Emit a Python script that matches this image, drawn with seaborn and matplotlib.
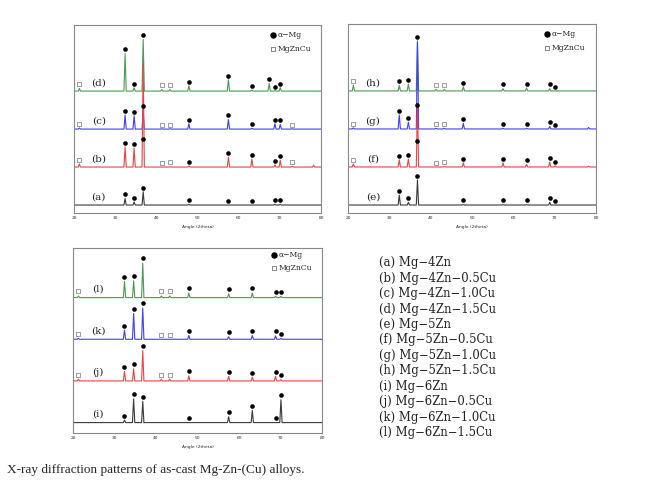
import seaborn as sns
import matplotlib.pyplot as plt
import pandas as pd

# -----------------------------
# 1. Peak data
# -----------------------------
# 2theta positions of the indexed peaks
mg_pos = [32.4, 34.6, 36.8, 47.9, 57.5, 63.2, 67.4, 68.8, 70.1]
mzc_pos = [21.3, 41.3, 43.3, 73.0]

# alpha-Mg peak heights above each pattern's baseline (None = not indexed)
mg_a = [0.17, 0.08, 0.35, 0.02, 0.00, 0.00, None, 0.02, 0.02]
mg_b = [0.53, 0.50, 0.63, 0.03, 0.26, 0.21, None, 0.06, 0.18]
mg_c = [0.37, 0.35, 0.49, 0.14, 0.25, 0.02, None, 0.14, 0.12]
mg_d = [0.99, 0.09, 1.36, 0.14, 0.30, 0.03, 0.20, 0.01, 0.09]
mg_e = [0.26, 0.07, 0.66, 0.01, 0.01, 0.01, None, 0.07, 0.00]
mg_f = [0.19, 0.21, 0.57, 0.11, 0.11, 0.07, None, 0.13, 0.03]
mg_g = [0.37, 0.18, 0.53, 0.15, 0.02, 0.02, None, 0.07, 0.00]
mg_h = [0.15, 0.18, 1.32, 0.11, 0.06, 0.08, None, 0.06, 0.00]
mg_i = [0.06, 0.57, 0.51, 0.00, 0.14, 0.29, None, 0.00, 0.55]
mg_j = [0.23, 0.29, 0.73, 0.12, 0.11, 0.09, None, 0.11, 0.03]
mg_k = [0.22, 0.62, 0.75, 0.09, 0.06, 0.09, None, 0.08, 0.02]
mg_l = [0.39, 0.40, 0.83, 0.11, 0.09, 0.11, None, 0.03, 0.03]

# MgZnCu peak heights (None = not indexed)
mzc_a = [None, None, None, None]
mzc_b = [0.08, 0.00, 0.01, 0.02]
mzc_c = [0.03, 0.01, 0.01, 0.01]
mzc_d = [0.07, 0.04, 0.04, None]
mzc_e = [None, None, None, None]
mzc_f = [0.08, 0.00, 0.01, None]
mzc_g = [0.03, 0.02, 0.02, None]
mzc_h = [0.15, 0.04, 0.04, None]
mzc_i = [None, None, None, None]
mzc_j = [0.04, 0.04, 0.04, None]
mzc_k = [0.02, 0.00, 0.00, None]
mzc_l = [0.04, 0.04, 0.04, None]

# strongest (36.8) reflection runs past its marker in these scans
tall_peak = {"b": 2.72, "f": 1.67, "g": 2.28}
# small unindexed reflections
minor_peaks = {"b": [(78.2, 0.05)], "g": [(78.2, 0.04)], "f": [(78.2, 0.02)]}

samples = list("abcdefghijkl")
alloys = ["Mg-4Zn", "Mg-4Zn-0.5Cu", "Mg-4Zn-1.0Cu", "Mg-4Zn-1.5Cu",
          "Mg-5Zn", "Mg-5Zn-0.5Cu", "Mg-5Zn-1.0Cu", "Mg-5Zn-1.5Cu",
          "Mg-6Zn", "Mg-6Zn-0.5Cu", "Mg-6Zn-1.0Cu", "Mg-6Zn-1.5Cu"]
mg = dict(zip(samples, [mg_a, mg_b, mg_c, mg_d, mg_e, mg_f, mg_g, mg_h, mg_i, mg_j, mg_k, mg_l]))
mzc = dict(zip(samples, [mzc_a, mzc_b, mzc_c, mzc_d, mzc_e, mzc_f, mzc_g, mzc_h,
                         mzc_i, mzc_j, mzc_k, mzc_l]))

# -----------------------------
# 2. Theme and colors
# -----------------------------
sns.set_style("white")
plt.rcParams["font.family"] = ["DejaVu Serif"]
row_colors = ["#3a3a3a", "#e84444", "#4040ee", "#4a9a52"]
peak_w = 0.28
mark_off = 0.11

fig = plt.figure(figsize=(6.58, 4.83), dpi=100)
ax_tl = fig.add_axes([0.1125, 0.559, 0.3754, 0.3892])
ax_tr = fig.add_axes([0.5289, 0.559, 0.3769, 0.3913])
ax_bl = fig.add_axes([0.1110, 0.1035, 0.3784, 0.3830])

panels = [
    (ax_tl, list("abcd"), (-0.21, 4.74), (0.806, 0.947, 0.872)),
    (ax_tr, list("efgh"), (-0.21, 4.76), (0.802, 0.947, 0.872)),
    (ax_bl, list("ijkl"), (-0.25, 4.19), (0.806, 0.962, 0.890)),
]


def scan_points(s, offset):
    peaks = [(p, h) for p, h in zip(mg_pos, mg[s]) if h is not None]
    peaks += [(p, h) for p, h in zip(mzc_pos, mzc[s]) if h is not None]
    peaks += minor_peaks.get(s, [])
    if s in tall_peak:
        peaks = [(p, tall_peak[s]) if p == 36.8 else (p, h) for p, h in peaks]
    peaks.sort()
    xs, ys = [20.0], [offset]
    for p, h in peaks:
        xs += [p - peak_w, p, p + peak_w]
        ys += [offset, offset + h, offset]
    xs.append(80.0)
    ys.append(offset)
    return xs, ys


# -----------------------------
# 3. Draw the three panels
# -----------------------------
for ax, group, ylim, leg in panels:
    lines, dots, boxes = [], [], []
    for k, s in enumerate(group):
        xs, ys = scan_points(s, k)
        lines.append(pd.DataFrame({"angle": xs, "intensity": ys, "sample": s}))
        for p, h in zip(mg_pos, mg[s]):
            if h is not None:
                dots.append({"angle": p, "y": k + h + mark_off})
        for p, h in zip(mzc_pos, mzc[s]):
            if h is not None:
                boxes.append({"angle": p, "y": k + h + mark_off})
        ax.text(26, k + 0.2, f"({s})", fontsize=7.5, ha="center", va="center", color="#222")
    df = pd.concat(lines, ignore_index=True)
    sns.lineplot(data=df, x="angle", y="intensity", hue="sample",
                 hue_order=group[::-1],
                 palette=dict(zip(group, row_colors)),
                 sort=False, estimator=None, legend=False, lw=0.8, ax=ax)
    sns.scatterplot(data=pd.DataFrame(dots), x="angle", y="y", marker="o", s=11,
                    color="black", linewidth=0, ax=ax, zorder=5)
    if boxes:
        sns.scatterplot(data=pd.DataFrame(boxes), x="angle", y="y", marker="s", s=10,
                        facecolor="white", edgecolor="#777", linewidth=0.5, ax=ax, zorder=5)

    # in-panel key
    lx, ly1, ly2 = leg
    ax.plot([lx], [ly1], "o", ms=3.6, color="black", transform=ax.transAxes)
    ax.plot([lx], [ly2], "s", ms=3.3, mfc="white", mec="#555", mew=0.5, transform=ax.transAxes)
    ax.text(lx + 0.02, ly1, "α−Mg", fontsize=5.5, va="center", transform=ax.transAxes)
    ax.text(lx + 0.02, ly2, "MgZnCu", fontsize=5.5, va="center", transform=ax.transAxes)

    ax.set_xlim(20, 80)
    ax.set_ylim(*ylim)
    ax.set_xticks(range(20, 81, 10))
    ax.set_yticks([])
    ax.tick_params(axis="x", direction="in", length=1.5, width=0.5, labelsize=3.2, pad=2.5)
    ax.set_xlabel("Angle (2theta)", fontsize=3.2, family="DejaVu Sans", labelpad=3)
    ax.set_ylabel("")
    for lab in ax.get_xticklabels():
        lab.set_family("DejaVu Sans")
    for sp in ax.spines.values():
        sp.set_linewidth(0.8)
        sp.set_color("#888")

# -----------------------------
# 4. Sample list and caption
# -----------------------------
for n, (s, name) in enumerate(zip(samples, alloys)):
    fig.text(379 / 658, 1 - (262.7 + n * 15.45) / 483, f"({s}) {name.replace('-', '−')}",
             fontsize=8.4, va="center", ha="left", color="#222")

fig.text(7 / 658, 1 - 470 / 483, "X-ray diffraction patterns of as-cast Mg-Zn-(Cu) alloys.",
         fontsize=9.5, family="Liberation Serif", va="center", ha="left")

plt.savefig("out.png", dpi=100, facecolor="white")
plt.close()
